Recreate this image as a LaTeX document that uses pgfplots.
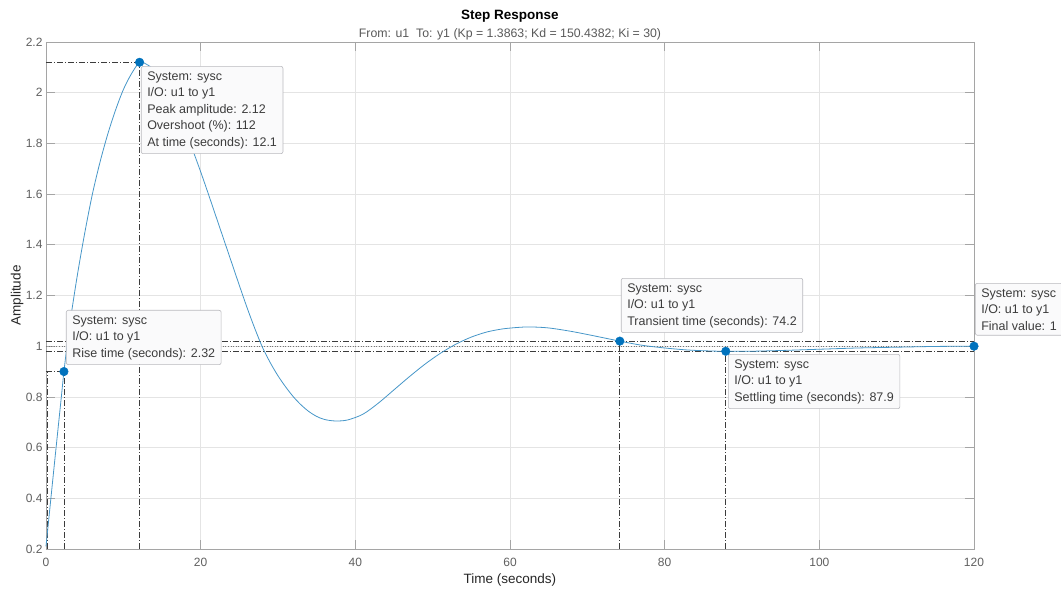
\documentclass[border=0pt]{standalone}
\usepackage{pgfplots}
\pgfplotsset{compat=1.18}
\usepackage{fontspec}
\setmainfont{Liberation Sans}
\definecolor{curve}{RGB}{70,150,200}
\definecolor{mk}{RGB}{0,114,189}
\definecolor{tipfill}{RGB}{250,250,251}
\definecolor{tipdraw}{RGB}{185,185,190}
\definecolor{tiptext}{RGB}{60,60,60}
\definecolor{axgray}{RGB}{165,165,165}
\definecolor{gridc}{RGB}{228,228,228}
\definecolor{ticktext}{RGB}{95,95,95}
\definecolor{refc}{RGB}{60,60,60}
\tikzset{
  tip/.style={draw=tipdraw, fill=tipfill, rounded corners=2pt, align=left, anchor=north west,
     inner xsep=6pt, inner ysep=5pt, font=\fontsize{12.5}{16.5}\selectfont, text=tiptext, line width=0.6pt},
  refline/.style={refc, line width=0.7pt, dash pattern=on 6pt off 2pt on 1pt off 2pt},
}
\pgfplotstableread{
t v
0 0.21
1 0.51
2 0.805
2.32 0.90
3 1.07
4 1.27
5 1.445
6 1.60
7 1.728
8 1.838
9 1.932
10 2.012
11 2.072
12.1 2.12
13 2.112
14 2.09
15 2.05
16 1.995
17 1.93
18 1.855
19 1.772
20 1.688
21 1.60
22 1.51
23 1.42
24 1.33
25 1.24
26 1.152
27 1.07
28 0.995
29 0.935
30 0.883
31 0.839
32 0.80
33 0.768
34 0.742
35 0.723
36 0.711
37.4 0.705
39 0.709
41 0.732
43 0.776
45 0.828
47 0.88
49 0.929
51 0.972
53 1.008
55 1.036
57 1.056
59 1.068
61 1.074
62.6 1.076
65 1.072
68 1.058
71 1.04
74.2 1.02
77 1.004
80 0.993
83 0.985
86 0.981
87.9 0.98
91 0.980
95 0.983
100 0.988
105 0.993
110 0.996
115 0.999
120 1.0
}\resp
\begin{document}
\begin{tikzpicture}
\useasboundingbox (0pt,0pt) rectangle (1061pt,589pt);
\begin{axis}[
  at={(46pt,40pt)}, anchor=south west,
  width=928pt, height=507pt, scale only axis,
  xmin=0, xmax=120, ymin=0.2, ymax=2.2,
  xtick={0,20,40,60,80,100,120},
  ytick={0.2,0.4,0.6,0.8,1,1.2,1.4,1.6,1.8,2,2.2},
  tick align=inside, major tick length=9pt,
  grid=major, major grid style={gridc, line width=0.6pt},
  axis line style={axgray, line width=0.8pt},
  tick style={axgray, line width=0.6pt},
  tick label style={font=\fontsize{12}{14}\selectfont, text=ticktext},
  /pgf/number format/assume math mode=true,
  xticklabel style={yshift=-6pt},
  xlabel={Time (seconds)}, ylabel={Amplitude},
  label style={font=\fontsize{13.5}{15}\selectfont, text=black!85},
  xlabel style={at={(axis description cs:0.5,-0.0611)}, anchor=center},
  ylabel style={at={(axis description cs:-0.0312,0.5)}, anchor=center},
  clip=false,
]
% reference lines
\addplot[refline, forget plot] coordinates {(0,1.02) (120,1.02)};
\addplot[refline, forget plot] coordinates {(0,0.98) (120,0.98)};
\addplot[refc!70, line width=0.6pt, dotted, forget plot] coordinates {(0,1) (120,1)};
\addplot[refline, forget plot] coordinates {(0,0.9) (2.32,0.9)};
\addplot[refline, forget plot] coordinates {(2.32,0.2) (2.32,0.9)};
\addplot[refline, forget plot] coordinates {(0.15,0.2) (0.15,0.9)};
\addplot[refline, forget plot] coordinates {(0,2.12) (12.1,2.12)};
\addplot[refline, forget plot] coordinates {(12.1,0.2) (12.1,2.12)};
\addplot[refline, forget plot] coordinates {(74.2,0.2) (74.2,1.02)};
\addplot[refline, forget plot] coordinates {(87.9,0.2) (87.9,0.98)};
% response
\addplot[curve, line width=0.8pt, smooth, tension=0.5] table[x=t,y=v] {\resp};
% markers
\addplot[only marks, mark=*, mark size=4.3pt, mark options={fill=mk, draw=mk}]
  coordinates {(2.32,0.9) (12.1,2.12) (74.2,1.02) (87.9,0.98) (120,1)};
% datatips
\node[tip] at (axis cs:2.586,1.1428) {System: sysc\\I/O: u1 to y1\\Rise time (seconds): 2.32};
\node[tip] at (axis cs:12.28,2.105) {System: sysc\\I/O: u1 to y1\\Peak amplitude: 2.12\\Overshoot (\%): 112\\At time (seconds): 12.1};
\node[tip] at (axis cs:74.35,1.269) {System: sysc\\I/O: u1 to y1\\Transient time (seconds): 74.2};
\node[tip] at (axis cs:88.19,0.969) {System: sysc\\I/O: u1 to y1\\Settling time (seconds): 87.9};
\node[tip] at (axis cs:120.13,1.249) {System: sysc\\I/O: u1 to y1\\Final value: 1};
% titles
\node[font=\bfseries\fontsize{13.5}{15}\selectfont, anchor=center] at (rel axis cs:0.5,1) [yshift=26pt] {Step Response};
\node[font=\fontsize{12.3}{14}\selectfont, text=black!65, anchor=center] at (rel axis cs:0.5,1) [yshift=8pt] {From: u1\ \ To: y1 (Kp = 1.3863; Kd = 150.4382; Ki = 30)};
\end{axis}
\end{tikzpicture}
\end{document}
